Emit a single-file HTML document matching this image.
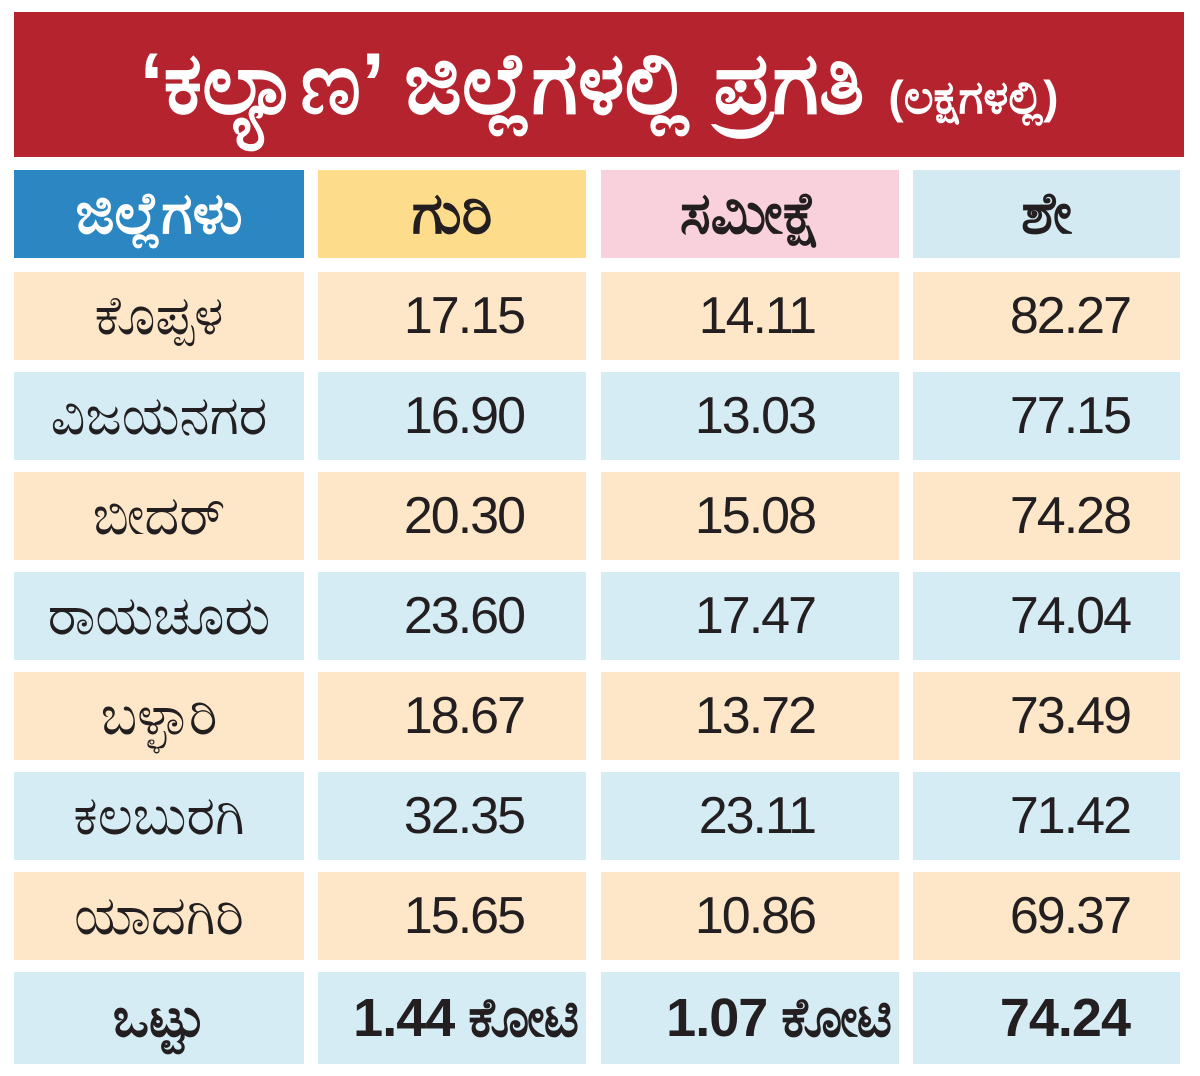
<!DOCTYPE html>
<html><head><meta charset="utf-8">
<style>
html,body{margin:0;padding:0;background:#fff;width:1200px;height:1076px;overflow:hidden}
body{position:relative;font-family:"Liberation Sans","Noto Sans CJK SC",sans-serif}
.title{position:absolute;left:14px;top:12px;width:1170px;height:145px;background:#b5232f;color:#fff;font-size:86px;font-weight:bold;line-height:145px;text-align:center;white-space:nowrap}
.title small{font-size:46px}
.cell{position:absolute;box-sizing:border-box;height:88px;line-height:88px;font-size:52px;color:#231f20;white-space:nowrap;letter-spacing:-2px}
.hd{font-weight:bold;text-align:center;font-size:58px;letter-spacing:0}
.name{text-align:center;font-size:54px;letter-spacing:0}
.num{text-align:right}
</style></head><body>
<div class="title">‘ಕಲ್ಯಾಣ’ ಜಿಲ್ಲೆಗಳಲ್ಲಿ ಪ್ರಗತಿ <small>(ಲಕ್ಷಗಳಲ್ಲಿ)</small></div>
<div id="tbl"></div>
<script>
const districts=["ಕೊಪ್ಪಳ","ವಿಜಯನಗರ","ಬೀದರ್","ರಾಯಚೂರು","ಬಳ್ಳಾರಿ","ಕಲಬುರಗಿ","ಯಾದಗಿರಿ","ಒಟ್ಟು"];
const target=["17.15","16.90","20.30","23.60","18.67","32.35","15.65","1.44 ಕೋಟಿ"];
const survey=["14.11","13.03","15.08","17.47","13.72","23.11","10.86","1.07 ಕೋಟಿ"];
const percent=["82.27","77.15","74.28","74.04","73.49","71.42","69.37","74.24"];
const headers=["ಜಿಲ್ಲೆಗಳು","ಗುರಿ","ಸಮೀಕ್ಷೆ","ಶೇ"];
const cols=[[14,290],[318,268],[601,298],[913,267]];
const hdBg=["#2b86c1","#fddc8c","#f8d1dc","#d3eaf3"];
const rowBg=["#fde7c8","#d5ecf4"];
const tbl=document.getElementById('tbl');
function mk(x,y,w,h,bg,cls,txt){
  const d=document.createElement('div');
  d.className='cell '+cls;
  d.style.left=x+'px';d.style.top=y+'px';d.style.width=w+'px';d.style.height=h+'px';d.style.lineHeight=h+'px';
  d.style.background=bg;d.textContent=txt;tbl.appendChild(d);return d;
}
headers.forEach((t,i)=>{
  const d=mk(cols[i][0],170,cols[i][1],88,hdBg[i],'hd',t);
  d.style.color=i===0?'#fff':'#231f20';
  
  
});
districts.forEach((n,r)=>{
  const y=272+r*100,h=r===7?92:88,bg=rowBg[r%2];
  const a=mk(cols[0][0],y,cols[0][1],h,bg,'name',n);
  if(r===7)a.style.fontWeight='bold';
  
  
  const vals=[target[r],survey[r],percent[r]];
  const pads=[62,84,50];
  vals.forEach((v,i)=>{
    const c=mk(cols[i+1][0],y,cols[i+1][1],h,bg,'num',v);
    c.style.paddingRight=(r===7&&i<2?8:pads[i])+'px';
    if(r===7){c.style.fontWeight='bold';c.style.fontSize='54px';c.style.letterSpacing='-1px';}
    
    
  });
});
</script>
</body></html>
